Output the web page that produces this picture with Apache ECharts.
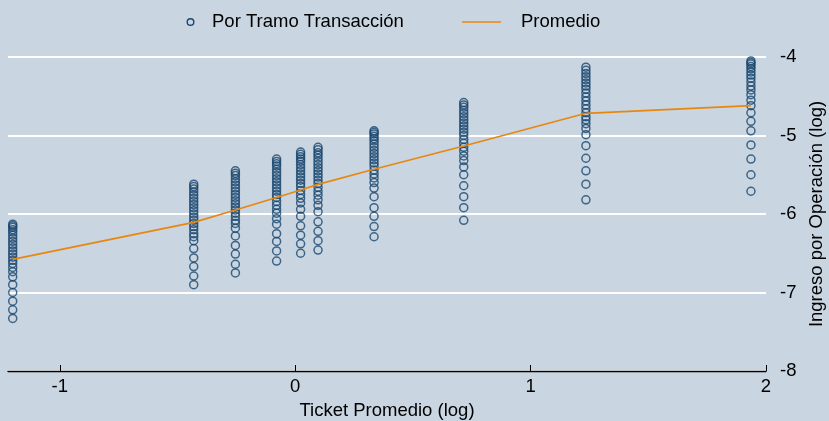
<!DOCTYPE html>
<html>
<head>
<meta charset="utf-8">
<style>
  html, body { margin: 0; padding: 0; background: #c9d5e0; }
  #chart { width: 829px; height: 421px; }
</style>
<script src="https://cdn.jsdelivr.net/npm/echarts@6/dist/echarts.min.js"></script>
</head>
<body>
<div id="chart"></div>
<script>
// Log average ticket of each transaction bracket (x position of every column)
const tramoX = [-1.20, -0.431, -0.254, -0.079, 0.023, 0.097, 0.335, 0.716, 1.235, 1.936];

// Log income per operation, one array per bracket
const tramo1 = [-7.33, -7.22, -7.11, -7.00, -6.90, -6.80, -6.735, -6.68, -6.63, -6.59, -6.55, -6.51, -6.47, -6.43, -6.39, -6.35, -6.31, -6.27, -6.23, -6.20, -6.17, -6.15, -6.13];
const tramo2 = [-6.90, -6.79, -6.67, -6.56, -6.44, -6.34, -6.29, -6.25, -6.20, -6.16, -6.12, -6.08, -6.04, -6.00, -5.96, -5.92, -5.88, -5.84, -5.80, -5.76, -5.72, -5.68, -5.65, -5.62];
const tramo3 = [-6.75, -6.64, -6.51, -6.40, -6.28, -6.18, -6.12, -6.08, -6.03, -5.99, -5.95, -5.91, -5.87, -5.83, -5.79, -5.75, -5.71, -5.67, -5.63, -5.59, -5.55, -5.51, -5.48, -5.45];
const tramo4 = [-6.60, -6.47, -6.35, -6.25, -6.13, -6.06, -5.99, -5.94, -5.89, -5.84, -5.79, -5.75, -5.71, -5.67, -5.63, -5.59, -5.55, -5.51, -5.47, -5.43, -5.39, -5.36, -5.33, -5.30];
const tramo5 = [-6.50, -6.38, -6.27, -6.15, -6.03, -5.94, -5.86, -5.80, -5.75, -5.70, -5.65, -5.61, -5.57, -5.53, -5.49, -5.45, -5.41, -5.37, -5.33, -5.30, -5.27, -5.24, -5.21];
const tramo6 = [-6.46, -6.34, -6.22, -6.10, -5.97, -5.89, -5.82, -5.76, -5.71, -5.66, -5.61, -5.57, -5.53, -5.49, -5.45, -5.41, -5.37, -5.33, -5.29, -5.25, -5.22, -5.18, -5.15];
const tramo7 = [-6.29, -6.16, -6.03, -5.92, -5.78, -5.67, -5.60, -5.54, -5.49, -5.44, -5.39, -5.35, -5.31, -5.27, -5.23, -5.19, -5.15, -5.11, -5.07, -5.04, -5.01, -4.98, -4.96, -4.94];
const tramo8 = [-6.08, -5.92, -5.78, -5.64, -5.50, -5.40, -5.32, -5.26, -5.20, -5.15, -5.10, -5.05, -5.00, -4.96, -4.92, -4.88, -4.84, -4.80, -4.76, -4.72, -4.68, -4.64, -4.61, -4.58];
const tramo9 = [-5.82, -5.62, -5.45, -5.29, -5.13, -4.99, -4.91, -4.85, -4.80, -4.76, -4.71, -4.66, -4.61, -4.56, -4.51, -4.46, -4.41, -4.37, -4.33, -4.29, -4.25, -4.21, -4.17, -4.13];
const tramo10 = [-5.71, -5.50, -5.30, -5.12, -4.94, -4.82, -4.71, -4.62, -4.55, -4.48, -4.42, -4.37, -4.32, -4.27, -4.23, -4.19, -4.15, -4.12, -4.09, -4.07, -4.05];

// Mean log income per bracket
const promedioY = [-6.577, -6.106, -5.949, -5.79, -5.694, -5.622, -5.43, -5.134, -4.717, -4.62];

// Tick values of the horizontal axis
const ticksX = [-1, 0, 1, 2];

const serieTramo = 'Por Tramo Transacción';
const seriePromedio = 'Promedio';
const tituloX = 'Ticket Promedio (log)';
const tituloY = 'Ingreso por Operación (log)';

const NAVY = '#1a476f';
const ORANGE = '#e8870f';
const FONT = '"Liberation Sans", Arial, Helvetica, sans-serif';
const FS = 18.5;

const tramos = [tramo1, tramo2, tramo3, tramo4, tramo5, tramo6, tramo7, tramo8, tramo9, tramo10];
const puntos = [];
tramos.forEach((vals, i) => vals.forEach(v => puntos.push([tramoX[i], v])));
const linea = tramoX.map((x, i) => [x, promedioY[i]]);

const chart = echarts.init(document.getElementById('chart'), null, { renderer: 'canvas' });
chart.setOption({
  backgroundColor: '#c9d5e0',
  animation: false,
  textStyle: { fontFamily: FONT },
  grid: { left: 8, right: 63, top: 57, bottom: 50, containLabel: false, outerBoundsMode: 'none' },
  xAxis: {
    type: 'value',
    min: -1.22,
    max: 2,
    name: tituloX,
    nameLocation: 'middle',
    nameGap: 30,
    nameTextStyle: { fontSize: FS, color: '#000', fontFamily: FONT },
    axisLine: { show: true, onZero: false, lineStyle: { color: '#000', width: 1.3 } },
    axisTick: {
      show: true, inside: true, length: 6, customValues: ticksX,
      lineStyle: { color: '#000', width: 1 }
    },
    axisLabel: {
      fontSize: FS, color: '#000', margin: 6, fontFamily: FONT,
      customValues: ticksX
    },
    splitLine: { show: false }
  },
  yAxis: {
    type: 'value',
    position: 'right',
    min: -8,
    max: -4,
    interval: 1,
    name: tituloY,
    nameLocation: 'middle',
    nameRotate: 90,
    nameGap: 37,
    nameTextStyle: { fontSize: FS, color: '#000', fontFamily: FONT },
    axisLine: { show: false },
    axisTick: { show: false },
    axisLabel: { fontSize: FS, color: '#000', margin: 14, fontFamily: FONT },
    splitLine: { show: true, lineStyle: { color: '#ffffff', width: 2 } }
  },
  series: [
    {
      name: serieTramo,
      type: 'scatter',
      data: puntos,
      symbol: 'circle',
      symbolSize: 8,
      clip: false,
      itemStyle: { color: 'rgba(0,0,0,0)', borderColor: NAVY, borderWidth: 1.5 },
      z: 2
    },
    {
      name: seriePromedio,
      type: 'line',
      data: linea,
      showSymbol: false,
      symbol: 'none',
      clip: false,
      lineStyle: { color: ORANGE, width: 1.7 },
      z: 3
    }
  ],
  graphic: [
    {
      type: 'circle',
      shape: { cx: 190.5, cy: 22, r: 3.3 },
      style: { fill: 'none', stroke: NAVY, lineWidth: 1.4 }
    },
    {
      type: 'text',
      x: 212, y: 22,
      style: { text: serieTramo, font: FS + 'px ' + FONT, fill: '#000', verticalAlign: 'middle' }
    },
    {
      type: 'line',
      shape: { x1: 462, y1: 22, x2: 501, y2: 22 },
      style: { stroke: ORANGE, lineWidth: 1.7 }
    },
    {
      type: 'text',
      x: 521, y: 22,
      style: { text: seriePromedio, font: FS + 'px ' + FONT, fill: '#000', verticalAlign: 'middle' }
    }
  ]
});
</script>
</body>
</html>
